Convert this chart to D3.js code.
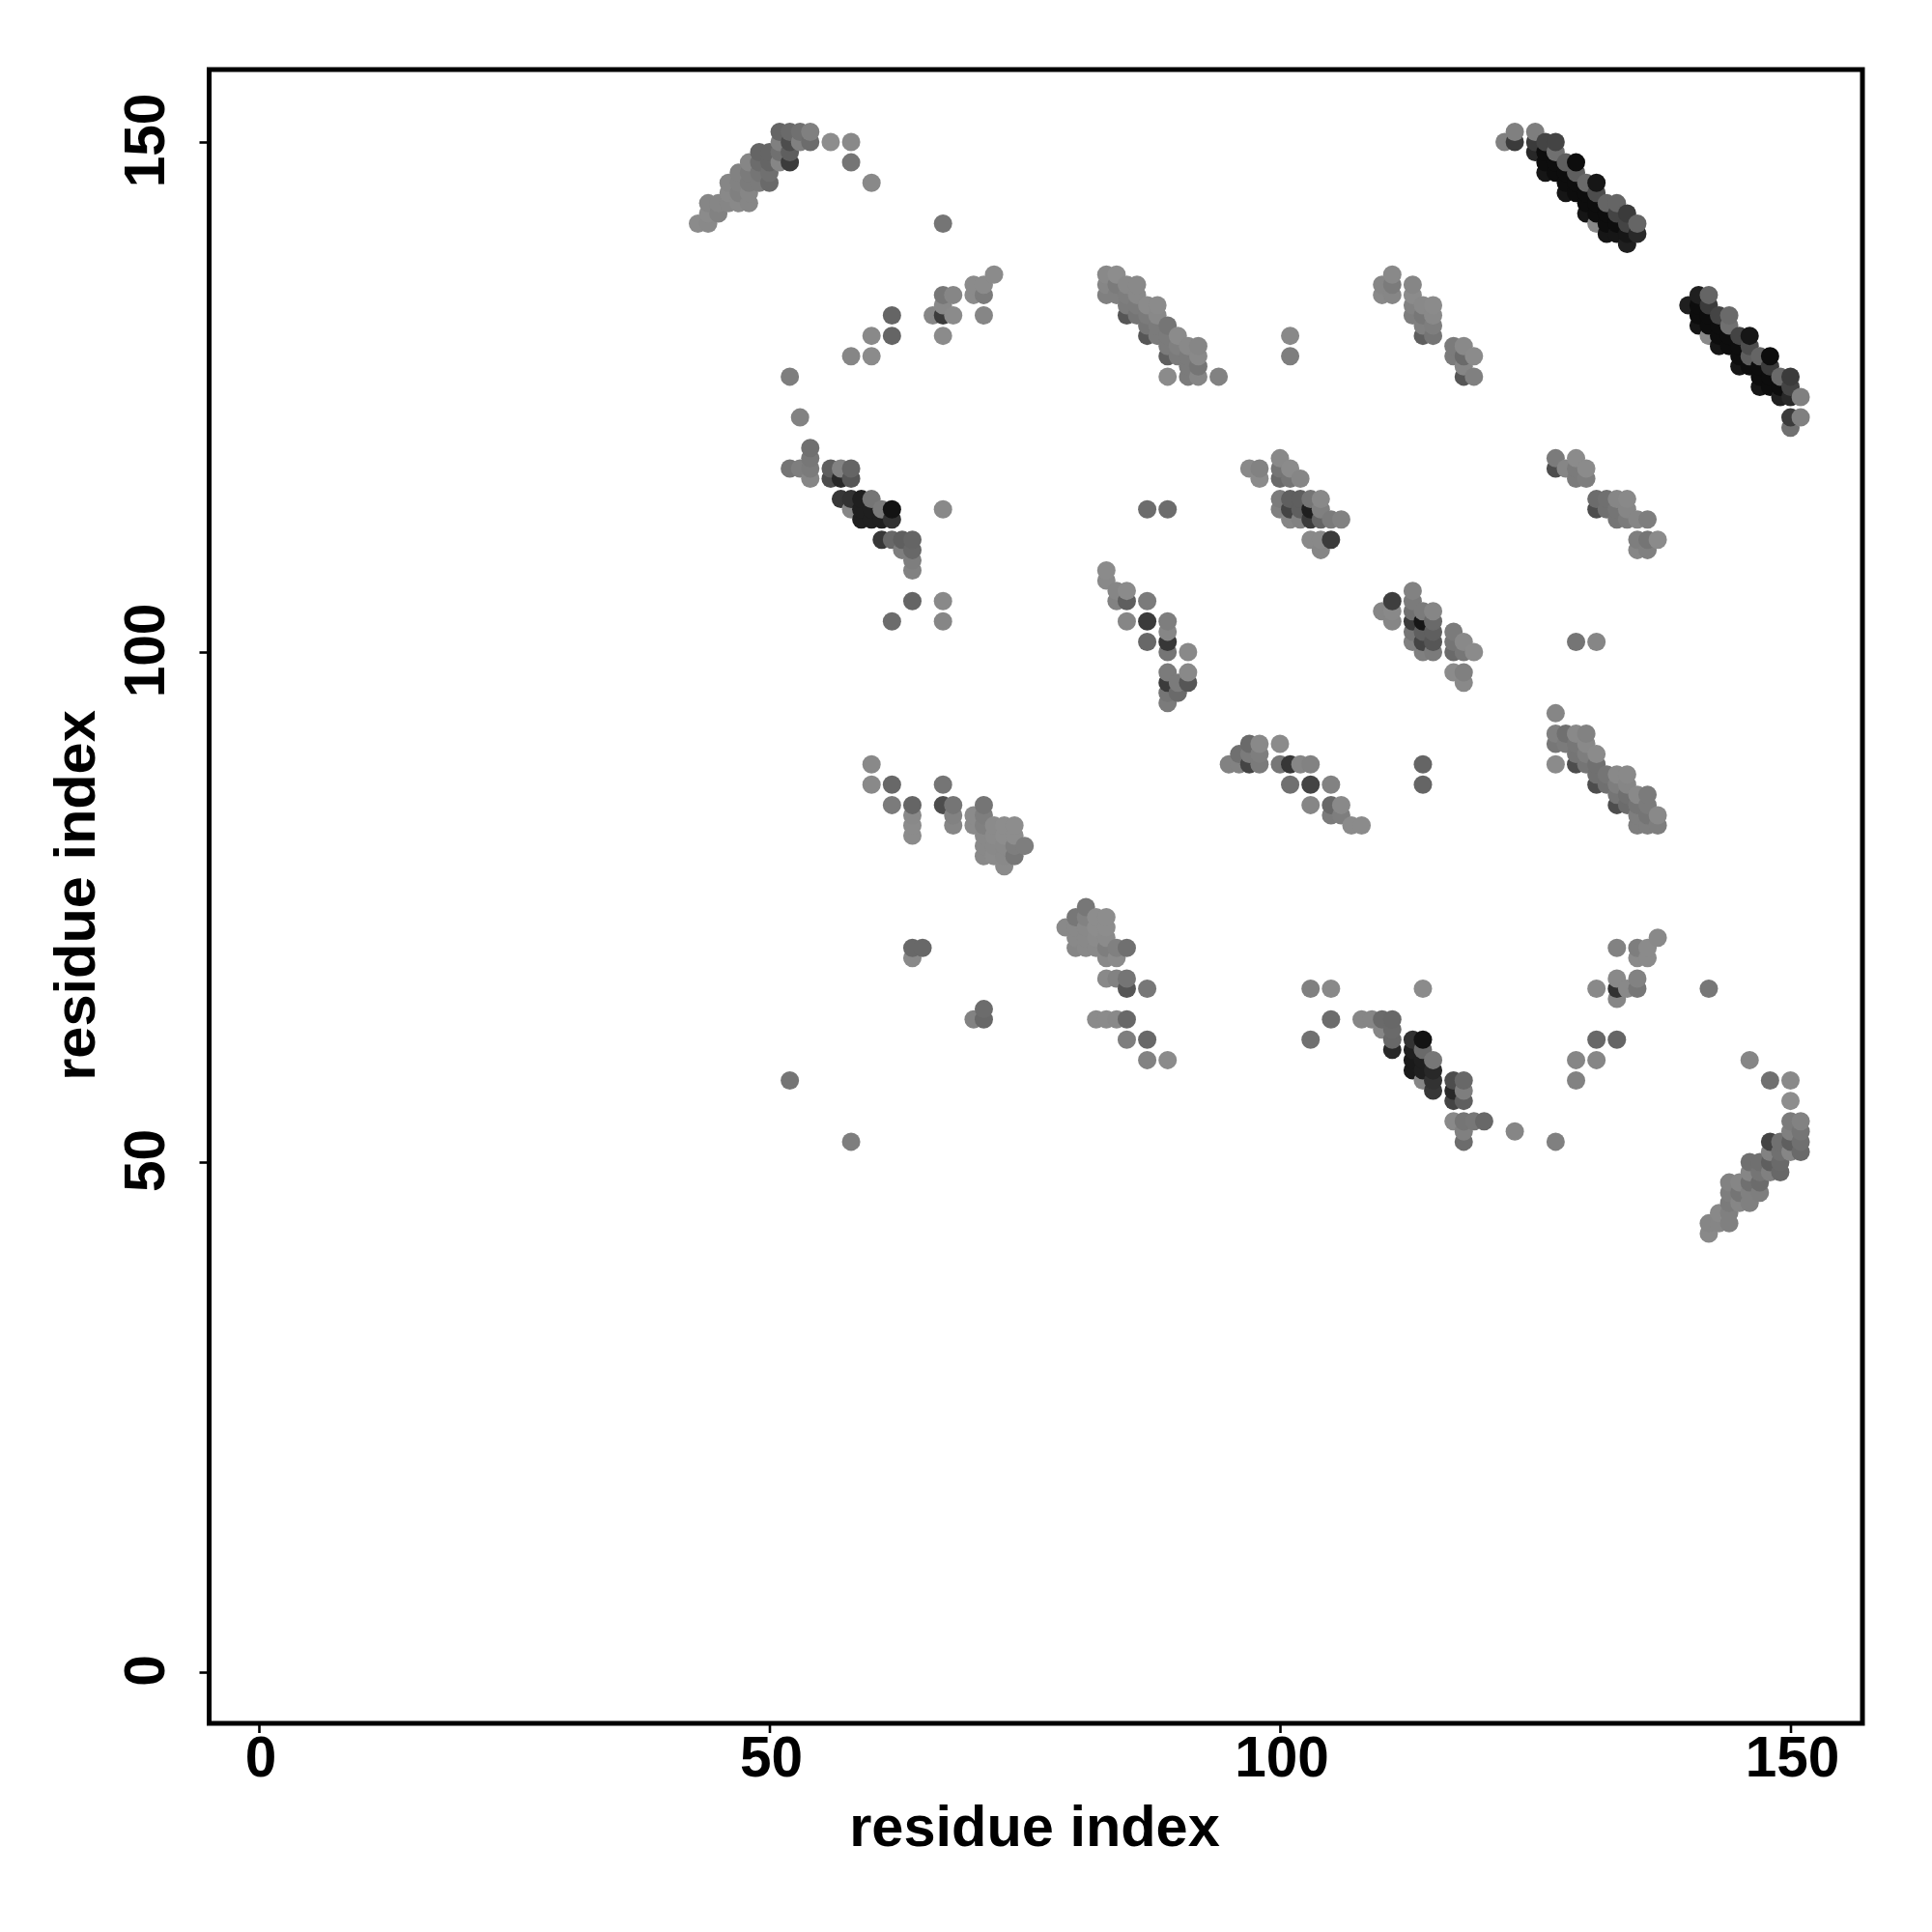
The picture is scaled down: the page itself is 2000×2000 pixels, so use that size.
<!DOCTYPE html>
<html><head><meta charset="utf-8">
<script src="https://cdn.jsdelivr.net/npm/d3@7"></script>
<style>html,body{margin:0;padding:0;background:#fff}svg{display:block}</style>
</head><body><div id="chart"></div>
<script>
// each entry: residue i, residue j, contact strength (0 faint .. 100 strong)
const blockTopLeft = [[43,142,10],[44,142,12],[44,143,10],[45,143,18],[44,144,15],[45,144,15],[46,144,15],[47,144,12],[48,144,15],[46,145,12],[47,145,20],[48,145,15],[46,146,15],[47,146,18],[48,146,25],[49,146,25],[50,146,40],[47,147,18],[48,147,25],[49,147,30],[50,147,35],[48,148,15],[49,148,38],[50,148,45],[51,148,15],[52,148,70],[49,149,45],[50,149,45],[51,149,35],[52,149,50],[51,150,20],[52,150,60],[53,150,20],[54,150,38],[51,151,45],[52,151,40],[53,151,35],[54,151,20],[56,150,8],[58,150,12],[58,148,30],[60,146,12],[67,142,30]];
const blockUpperArc = [[62,133,45],[62,131,45],[60,131,12],[58,129,15],[60,129,10],[52,127,22],[53,123,18],[66,133,15],[67,133,70],[68,133,10],[67,134,12],[67,135,28],[68,135,15],[67,131,10],[71,133,15],[70,135,10],[71,135,25],[70,136,10],[71,136,10],[72,137,10]];
const blockStrandA = [[122,150,20],[123,151,20],[123,150,70],[125,151,22],[125,150,70],[125,149,80],[126,150,65],[127,150,65],[127,149,35],[126,149,95],[126,148,95],[126,147,90],[127,148,95],[127,147,95],[128,148,50],[129,148,95],[128,147,95],[128,146,95],[128,145,90],[129,147,50],[129,146,95],[129,145,95],[130,146,40],[131,146,90],[130,145,95],[130,144,95],[130,143,90],[131,145,60],[131,144,95],[131,143,95],[132,144,45],[133,144,45],[131,142,12],[132,143,95],[132,142,95],[132,141,90],[133,143,65],[133,142,95],[133,141,90],[134,142,65],[134,143,70],[134,141,90],[134,140,85],[135,142,45],[135,141,80]];
const blockStrandB = [[141,135,85],[142,135,45],[140,134,85],[141,134,95],[142,134,70],[141,133,95],[141,132,90],[142,133,95],[142,132,95],[142,131,12],[143,133,65],[144,133,40],[144,132,35],[143,132,95],[143,131,95],[143,130,90],[144,131,95],[144,130,95],[145,131,65],[146,131,90],[145,130,95],[145,129,95],[145,128,90],[146,130,60],[146,129,50],[147,129,45],[148,129,95],[146,128,95],[147,128,95],[147,127,95],[147,126,90],[148,128,70],[148,127,95],[148,126,95],[149,127,40],[150,127,70],[150,126,65],[149,126,95],[149,125,85],[150,125,80],[151,125,20],[150,123,70],[151,123,20],[150,122,35]];
const blockHelix83 = [[83,137,12],[83,136,15],[83,135,20],[84,137,8],[84,136,25],[84,135,20],[85,136,12],[85,135,22],[85,134,25],[85,133,55],[86,136,12],[86,135,12],[86,134,25],[86,133,30],[87,134,10],[87,133,25],[87,132,30],[87,131,55],[88,134,10],[88,133,12],[88,132,25],[88,131,25],[89,132,30],[89,131,25],[89,130,25],[89,129,50],[90,131,10],[90,130,20],[90,129,25],[91,130,12],[91,129,25],[91,128,25],[91,127,25],[92,130,15],[92,129,12],[92,128,30],[92,127,15],[89,127,10],[94,127,18],[101,131,12],[101,129,22],[87,114,38],[89,114,38]];
const blockHelix110 = [[110,136,15],[110,135,12],[111,137,12],[111,136,25],[111,135,15],[113,136,15],[113,135,10],[113,134,18],[113,133,22],[114,134,12],[114,133,28],[114,132,20],[114,131,50],[115,134,10],[115,133,12],[115,132,22],[115,131,30],[117,130,25],[117,129,25],[118,130,12],[118,129,40],[118,128,15],[118,127,55],[119,129,10],[119,127,20]];
const blockMid98 = [[97,118,12],[98,118,18],[98,117,10],[100,119,12],[100,118,30],[100,117,40],[101,118,10],[101,117,30],[102,117,15],[100,115,25],[100,114,20],[101,115,50],[101,114,65],[101,113,15],[102,115,50],[102,114,50],[102,113,18],[103,115,30],[103,114,85],[103,113,70],[104,115,12],[104,114,20],[104,113,45],[105,113,25],[106,113,18],[103,111,12],[104,111,12],[104,110,15],[105,111,70]];
const blockMid52 = [[52,118,30],[53,118,22],[54,120,35],[54,119,28],[54,118,25],[54,117,15],[56,118,50],[56,117,60],[57,118,18],[57,117,80],[58,118,45],[58,117,55],[57,115,72],[58,115,75],[59,115,85],[60,115,30],[58,114,15],[59,114,85],[60,114,85],[61,114,25],[62,114,92],[59,113,85],[60,113,85],[61,113,85],[62,113,75],[61,111,72],[62,111,42],[63,111,50],[64,111,45],[63,110,22],[64,110,42],[64,109,22],[64,108,18],[64,105,45],[62,103,38],[67,114,12],[67,105,12],[67,103,15]];
const blockMid83 = [[83,108,10],[83,107,12],[84,106,15],[84,105,18],[85,106,10],[85,105,50],[87,105,25],[85,103,15],[87,103,70],[87,101,42],[89,103,22],[89,102,15],[89,101,72],[89,100,30],[89,98,25],[89,97,70],[89,96,30],[89,95,25],[90,97,25],[90,96,40],[91,100,12],[91,98,12],[91,97,55]];
const blockMid110 = [[110,104,15],[111,105,68],[111,104,12],[111,103,15],[113,106,18],[113,105,25],[113,104,35],[113,103,70],[113,102,30],[113,101,20],[114,104,25],[114,103,90],[114,102,50],[114,101,65],[114,100,20],[115,104,15],[115,103,40],[115,102,50],[115,101,55],[115,100,25],[117,102,25],[117,101,30],[117,100,40],[118,101,12],[118,100,28],[119,100,10],[117,98,10],[118,98,20],[118,97,12],[129,101,30],[131,101,15]];
const blockMid127 = [[127,119,25],[127,118,60],[128,118,15],[129,119,10],[129,118,25],[129,117,25],[130,118,10],[130,117,22],[131,115,38],[131,114,60],[132,115,35],[132,114,35],[133,115,15],[133,114,30],[133,113,30],[134,115,12],[134,114,15],[134,113,25],[135,113,15],[136,113,22],[135,111,22],[136,111,30],[137,111,10],[135,110,15],[136,110,20]];
const blockLow95 = [[95,89,18],[96,90,35],[96,89,18],[97,91,40],[97,90,25],[97,89,65],[98,91,12],[98,90,22],[98,89,25],[100,91,10],[100,89,28],[101,89,72],[102,89,15],[103,89,18],[101,87,35],[103,87,65],[105,87,18],[103,85,15],[105,85,42],[106,85,12],[105,84,25],[106,84,22],[107,83,10],[108,83,10],[114,89,45],[114,87,45]];
const blockLow127 = [[127,94,15],[127,92,20],[127,91,28],[127,89,10],[128,92,35],[128,91,25],[129,92,12],[129,91,28],[129,90,30],[129,89,60],[130,92,18],[130,91,12],[130,90,22],[130,89,30],[131,90,10],[131,89,35],[131,88,35],[131,87,60],[132,88,30],[132,87,35],[133,88,12],[133,87,22],[133,86,30],[133,85,60],[134,88,12],[134,87,15],[134,86,35],[134,85,38],[135,86,12],[135,85,30],[135,84,22],[136,86,25],[136,85,25],[136,84,30],[135,83,22],[136,83,22],[137,84,12],[137,83,22]];
const blockLow60 = [[60,89,12],[60,87,12],[62,87,42],[62,85,25],[64,85,45],[64,84,12],[64,83,10],[64,82,10],[67,87,30],[67,85,60],[68,85,30],[68,84,18],[68,83,15],[70,84,10],[70,83,10],[71,85,30],[71,84,22],[71,83,20],[71,82,12],[71,81,12],[71,80,12],[72,83,10],[72,82,10],[72,81,12],[72,80,10],[73,83,8],[73,82,8],[73,81,12],[73,80,12],[73,79,10],[74,83,8],[74,82,8],[74,81,22],[74,80,28],[75,81,22]];
const blockLow79 = [[64,71,42],[65,71,42],[64,70,12],[71,65,38],[71,64,42],[70,64,18],[79,73,12],[80,74,28],[80,73,12],[80,72,12],[80,71,15],[81,75,28],[81,74,18],[81,73,12],[81,72,12],[81,71,12],[82,74,8],[82,73,8],[82,72,10],[82,71,12],[83,74,8],[83,73,8],[83,72,10],[83,71,22],[83,70,12],[84,71,20],[84,70,10],[85,71,35],[83,68,12],[84,68,18],[85,68,30],[85,67,55],[87,67,28],[82,64,10],[83,64,10],[84,64,12],[85,64,42],[85,62,22],[87,62,42],[87,60,18],[89,60,10]];
const blockBottom108 = [[103,67,20],[105,67,12],[105,64,38],[103,62,35],[108,64,15],[109,64,15],[110,64,40],[110,63,15],[111,64,42],[111,63,40],[111,62,42],[111,61,80],[113,62,75],[113,61,85],[113,60,88],[113,59,88],[114,62,92],[114,61,40],[114,60,85],[114,59,85],[114,58,15],[115,60,28],[115,59,80],[115,58,75],[115,57,72],[117,58,60],[117,57,80],[117,56,65],[118,58,42],[118,57,22],[118,56,50],[117,54,12],[118,54,30],[118,53,20],[118,52,38],[119,54,28],[120,54,42],[123,53,15],[127,52,20],[114,67,10],[52,58,30],[58,52,22]];
const blockBottom129 = [[129,60,15],[129,58,18],[131,60,15],[131,62,42],[133,62,45],[131,67,12],[133,68,12],[133,67,75],[133,66,15],[134,67,12],[135,68,18],[135,67,28],[133,71,18],[135,71,22],[135,70,10],[136,71,10],[136,70,10],[137,72,12]];
const blockCorner = [[142,67,28],[146,60,15],[148,58,35],[150,58,12],[150,56,8],[150,54,25],[150,53,20],[150,52,50],[150,51,15],[151,54,18],[151,53,30],[151,52,35],[151,51,40],[148,52,65],[149,52,35],[149,51,35],[149,50,40],[149,49,42],[148,51,18],[148,50,50],[148,49,20],[146,50,35],[147,50,35],[146,49,15],[147,49,30],[146,48,35],[147,48,38],[147,47,22],[144,48,18],[145,48,15],[144,47,22],[145,47,30],[146,47,20],[144,46,25],[145,46,15],[146,46,20],[143,45,12],[144,45,20],[144,44,20],[143,44,15],[142,44,15],[142,43,12]];
const tickValues = [0, 50, 100, 150];
const axisLabel = "residue index";

const contacts = [].concat(blockTopLeft, blockUpperArc, blockStrandA, blockStrandB, blockHelix83, blockHelix110, blockMid98, blockMid52, blockMid83, blockMid110, blockMid127, blockLow95, blockLow127, blockLow60, blockLow79, blockBottom108, blockBottom129, blockCorner)
  .sort((a, b) => a[0] - b[0] || a[1] - b[1]);

const font = '"Liberation Sans", Arial, Helvetica, sans-serif';
const frame = {left: 216.5, right: 1928, top: 72, bottom: 1784};
const x = d3.scaleLinear().domain([0, 150]).range([268, 1853.5]);
const y = d3.scaleLinear().domain([0, 150]).range([1731, 147]);
const gray = d3.scaleLinear().domain([0, 50, 100]).range([150, 95, 4]);

const svg = d3.select("#chart").append("svg").attr("width", 2000).attr("height", 2000);

svg.append("g").selectAll("circle").data(contacts).join("circle")
  .attr("cx", d => x(d[0])).attr("cy", d => y(d[1])).attr("r", 9.5)
  .attr("fill", d => { const g = Math.round(gray(d[2])); return `rgb(${g},${g},${g})`; });

svg.append("rect").attr("x", frame.left).attr("y", frame.top)
  .attr("width", frame.right - frame.left).attr("height", frame.bottom - frame.top)
  .attr("fill", "none").attr("stroke", "#000").attr("stroke-width", 5);

const gx = svg.append("g").attr("transform", `translate(0,${frame.bottom})`)
  .call(d3.axisBottom(x).tickValues(tickValues).tickSize(10).tickPadding(6).tickFormat(d3.format("d")));
const gy = svg.append("g").attr("transform", `translate(${frame.left},0)`)
  .call(d3.axisLeft(y).tickValues(tickValues).tickSize(10).tickFormat(d3.format("d")));
[gx, gy].forEach(g => {
  g.select(".domain").remove();
  g.selectAll("line").attr("stroke", "#000").attr("stroke-width", 2.6);
  g.selectAll("text").attr("fill", "#000").style("font", `bold 58.5px ${font}`);
});
gx.selectAll("text").attr("x", 1.5).attr("y", 55).attr("dy", 0).attr("text-anchor", "middle");
gy.selectAll("text").attr("x", 0).attr("dy", 0).attr("text-anchor", "middle")
  .attr("transform", "translate(-47,-2) rotate(-90)");

svg.append("text").attr("x", 1071).attr("y", 1911).attr("text-anchor", "middle")
  .style("font", `bold 59.5px ${font}`).text(axisLabel);
svg.append("text").attr("transform", "translate(98,927) rotate(-90)").attr("text-anchor", "middle")
  .style("font", `bold 59.5px ${font}`).text(axisLabel);
</script></body></html>
